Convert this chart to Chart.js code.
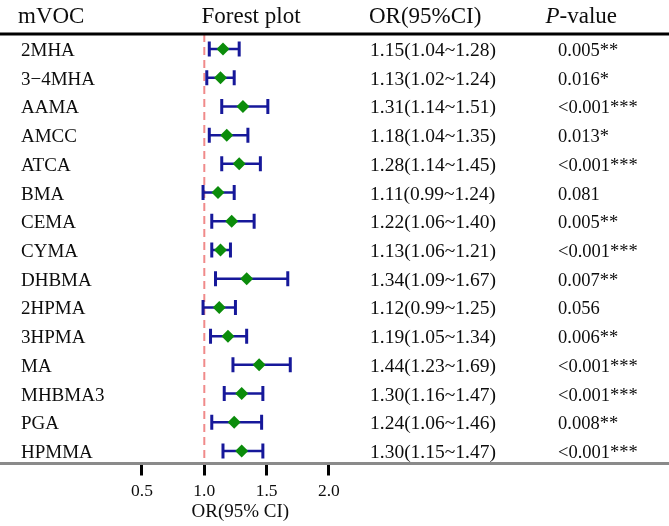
<!DOCTYPE html>
<html>
<head>
<meta charset="utf-8">
<script src="https://cdn.jsdelivr.net/npm/chart.js@4.4.1/dist/chart.umd.min.js"></script>
<style>
html,body{margin:0;padding:0;background:#fff;}
#wrap{width:669px;height:526px;}
</style>
</head>
<body>
<div id="wrap"><canvas id="c" width="669" height="526"></canvas></div>
<script>
// ---- data ----
const mVOC = ['2MHA','3\u22124MHA','AAMA','AMCC','ATCA','BMA','CEMA','CYMA','DHBMA','2HPMA','3HPMA','MA','MHBMA3','PGA','HPMMA'];
const orValues = [1.15,1.13,1.31,1.18,1.28,1.11,1.22,1.13,1.34,1.12,1.19,1.44,1.30,1.24,1.30];
const ciLow   = [1.04,1.02,1.14,1.04,1.14,0.99,1.06,1.06,1.09,0.99,1.05,1.23,1.16,1.06,1.15];
const ciHigh  = [1.28,1.24,1.51,1.35,1.45,1.24,1.40,1.21,1.67,1.25,1.34,1.69,1.47,1.46,1.47];
const orText  = ['1.15(1.04~1.28)','1.13(1.02~1.24)','1.31(1.14~1.51)','1.18(1.04~1.35)','1.28(1.14~1.45)','1.11(0.99~1.24)','1.22(1.06~1.40)','1.13(1.06~1.21)','1.34(1.09~1.67)','1.12(0.99~1.25)','1.19(1.05~1.34)','1.44(1.23~1.69)','1.30(1.16~1.47)','1.24(1.06~1.46)','1.30(1.15~1.47)'];
const pValues = ['0.005**','0.016*','<0.001***','0.013*','<0.001***','0.081','0.005**','<0.001***','0.007**','0.056','0.006**','<0.001***','<0.001***','0.008**','<0.001***'];
const xTicks  = [0.5, 1.0, 1.5, 2.0];
const refLine = 1.0;

// ---- derived datasets ----
const whiskerData = [];
mVOC.forEach((_, i) => {
  whiskerData.push({x: ciLow[i], y: i});
  whiskerData.push({x: ciHigh[i], y: i});
  whiskerData.push({x: ciHigh[i], y: null});
});
const capData = [];
mVOC.forEach((_, i) => {
  capData.push({x: ciLow[i], y: i});
  capData.push({x: ciHigh[i], y: i});
});
const orData = mVOC.map((_, i) => ({x: orValues[i], y: i}));

const Y_MIN = -0.522, Y_MAX = 14.435;
const X_MIN = -0.6396, X_MAX = 4.7295;

const SERIF = '"Liberation Serif", "Times New Roman", serif';
const TXT = '#0d0d0d';

const textPlugin = {
  id: 'forestText',
  afterDraw(chart) {
    const ctx = chart.ctx;
    const ys = chart.scales.y;
    ctx.save();
    // header separator
    ctx.strokeStyle = '#000';
    ctx.lineWidth = 3;
    ctx.beginPath();
    ctx.moveTo(0, ys.top);
    ctx.lineTo(chart.width, ys.top);
    ctx.stroke();
    // headers
    ctx.fillStyle = TXT;
    ctx.textBaseline = 'alphabetic';
    ctx.textAlign = 'left';
    ctx.font = '23px ' + SERIF;
    ctx.fillText('mVOC', 18, 23);
    ctx.fillText('Forest plot', 201.5, 23);
    ctx.fillText('OR(95%CI)', 369, 23);
    ctx.font = 'italic 23px ' + SERIF;
    ctx.fillText('P', 545.5, 23);
    const pw = ctx.measureText('P').width;
    ctx.font = '23px ' + SERIF;
    ctx.fillText('-value', 545.5 + pw, 23);
    // rows
    mVOC.forEach((name, i) => {
      const y = ys.getPixelForValue(i) + 7;
      ctx.font = '19px ' + SERIF;
      ctx.fillText(name, 21, y);
      ctx.font = '19.5px ' + SERIF;
      ctx.fillText(orText[i], 370, y);
      ctx.font = '18.5px ' + SERIF;
      ctx.fillText(pValues[i], 558, y);
    });
    // axis title
    ctx.font = '19px ' + SERIF;
    ctx.fillText('OR(95% CI)', 191.5, 516.5);
    ctx.restore();
  }
};

new Chart(document.getElementById('c'), {
  type: 'scatter',
  data: {
    datasets: [
      {
        type: 'line',
        data: [{x: refLine, y: Y_MIN}, {x: refLine, y: Y_MAX}],
        borderColor: '#f08a8a',
        borderWidth: 2,
        borderDash: [8, 5],
        pointRadius: 0,
        fill: false,
        order: 5
      },
      {
        type: 'line',
        data: whiskerData,
        borderColor: '#16189a',
        borderWidth: 2.5,
        pointRadius: 0,
        spanGaps: false,
        fill: false,
        order: 3
      },
      {
        data: capData,
        pointStyle: 'line',
        rotation: 90,
        pointRadius: 7.5,
        borderColor: '#16189a',
        pointBorderWidth: 3,
        order: 2
      },
      {
        data: orData,
        pointStyle: 'rectRot',
        pointRadius: 6.5,
        backgroundColor: '#0b8c0b',
        borderColor: '#0b8c0b',
        pointBorderWidth: 0,
        order: 1
      }
    ]
  },
  options: {
    responsive: false,
    devicePixelRatio: 1,
    animation: false,
    layout: {autoPadding: false, padding: {top: 34, left: 0, right: 0, bottom: 0}},
    plugins: {legend: {display: false}, tooltip: {enabled: false}},
    scales: {
      x: {
        type: 'linear',
        position: 'bottom',
        min: X_MIN,
        max: X_MAX,
        afterBuildTicks(scale) { scale.ticks = xTicks.map(v => ({value: v})); },
        afterFit(scale) { scale.height = 62.5; scale.paddingLeft = 0; scale.paddingRight = 0; },
        grid: {display: true, drawOnChartArea: false, drawTicks: true, tickLength: 12, tickWidth: 3, tickColor: '#000', color: '#000'},
        border: {display: true, color: '#8a8a8a', width: 3},
        ticks: {
          font: {family: SERIF, size: 17.5},
          color: TXT,
          padding: 5,
          maxRotation: 0,
          autoSkip: false,
          callback: v => Number(v).toFixed(1)
        }
      },
      y: {
        type: 'linear',
        reverse: true,
        min: Y_MIN,
        max: Y_MAX,
        display: false
      }
    }
  },
  plugins: [textPlugin]
});
</script>
</body>
</html>
